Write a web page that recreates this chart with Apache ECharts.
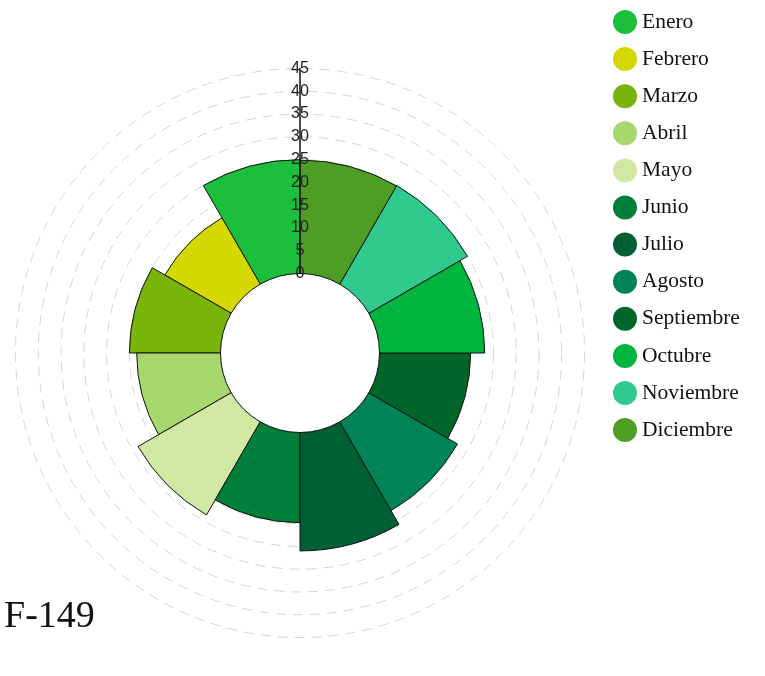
<!DOCTYPE html>
<html>
<head>
<meta charset="utf-8">
<title>F-149</title>
<script src="https://cdn.jsdelivr.net/npm/echarts@6/dist/echarts.min.js"></script>
<style>
  html, body { margin: 0; padding: 0; background: #ffffff; }
  #chart { width: 765px; height: 676px; }
</style>
</head>
<body>
<div id="chart"></div>
<script>
// Monthly categories, going counter-clockwise from the top
const months = ['Enero', 'Febrero', 'Marzo', 'Abril', 'Mayo', 'Junio',
                'Julio', 'Agosto', 'Septiembre', 'Octubre', 'Noviembre', 'Diciembre'];

// Value for each month
const values = [25, 16.8, 20, 18.4, 23.6, 19.8, 26, 22.5, 20, 23.1, 25, 24.9];

// Fill colour for each month
const colors = ['#1cbf3b', '#d4d800', '#78b40a', '#a6d86e', '#d1e8a2', '#007f3a',
                '#006035', '#008456', '#00652a', '#00b53e', '#30c98e', '#4e9e25'];

// Radius axis scale
const radiusMin = 0;
const radiusMax = 45;
const radiusStep = 5;

const chart = echarts.init(document.getElementById('chart'), null, { renderer: 'canvas' });

const polarCenter = [300, 353];
const polarRadius = [79.5, 284.5];

// Shared angle axis settings (hidden)
const angleAxisBase = {
  type: 'category',
  data: months,
  startAngle: 90,
  clockwise: false,
  axisLine: { show: false },
  axisTick: { show: false },
  axisLabel: { show: false },
  splitLine: { show: false }
};

// One series per month so each gets its own legend entry; all share one stack
const series = months.map((name, k) => ({
  name: name,
  type: 'bar',
  coordinateSystem: 'polar',
  polarIndex: 0,
  stack: 'months',
  barCategoryGap: '0%',
  data: months.map((_, i) => (i === k ? values[k] : '-')),
  itemStyle: { color: colors[k], borderColor: '#111111', borderWidth: 1 },
  emphasis: { disabled: true },
  z: 3
}));

chart.setOption({
  animation: false,
  color: colors,
  title: {
    text: 'F-149',
    left: 4,
    top: 598,
    padding: 0,
    textStyle: {
      fontFamily: 'Liberation Serif',
      fontSize: 38,
      fontWeight: 'normal',
      color: '#111111'
    }
  },
  legend: {
    orient: 'vertical',
    left: 613,
    top: 10,
    itemWidth: 24,
    itemHeight: 24,
    itemGap: 13.1,
    icon: 'circle',
    padding: 0,
    itemStyle: { borderWidth: 0 },
    selectedMode: false,
    data: months,
    textStyle: {
      fontFamily: 'Liberation Serif',
      fontSize: 21.5,
      color: '#111111'
    }
  },
  // Two overlapping polar systems: one for the dashed rings beneath the bars,
  // one for the axis line and labels drawn above them
  polar: [
    { center: polarCenter, radius: polarRadius },
    { center: polarCenter, radius: polarRadius }
  ],
  angleAxis: [
    Object.assign({ polarIndex: 0 }, angleAxisBase),
    Object.assign({ polarIndex: 1 }, angleAxisBase)
  ],
  radiusAxis: [
    {
      polarIndex: 0,
      type: 'value',
      min: radiusMin,
      max: radiusMax,
      interval: radiusStep,
      z: 1,
      axisLine: { show: false },
      axisTick: { show: false },
      axisLabel: { show: false },
      splitLine: {
        show: true,
        lineStyle: { color: '#d4d4d4', width: 1, type: [10, 7] }
      }
    },
    {
      polarIndex: 1,
      type: 'value',
      min: radiusMin,
      max: radiusMax,
      interval: radiusStep,
      z: 10,
      axisLine: { show: true, lineStyle: { color: '#111111', width: 1.5 } },
      axisTick: { show: false },
      axisLabel: {
        show: true,
        margin: 0,
        align: 'center',
        verticalAlign: 'middle',
        fontFamily: 'Liberation Sans',
        fontSize: 16,
        color: '#222222'
      },
      splitLine: { show: false }
    }
  ],
  series: series
});
</script>
</body>
</html>
